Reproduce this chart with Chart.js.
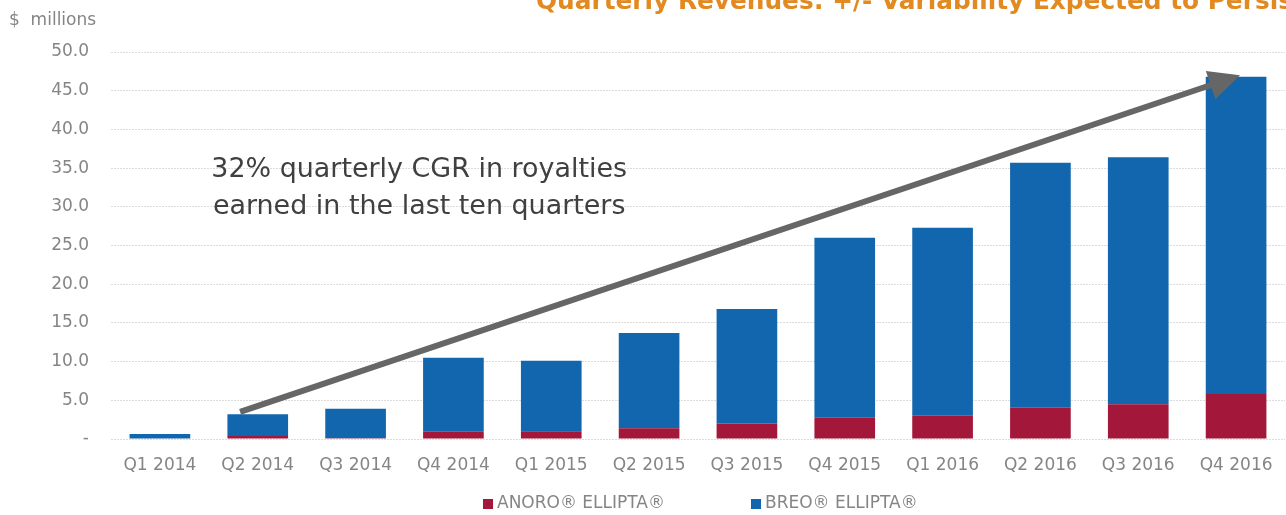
<!DOCTYPE html>
<html>
<head>
<meta charset="utf-8">
<script src="https://cdn.jsdelivr.net/npm/chart.js@4"></script>
<style>
html,body{margin:0;padding:0;background:#fff;}
#wrap{position:relative;width:1286px;height:515px;}
</style>
</head>
<body>
<div id="wrap"><canvas id="c" width="1286" height="515"></canvas></div>
<script>
const categories = ['Q1 2014','Q2 2014','Q3 2014','Q4 2014','Q1 2015','Q2 2015','Q3 2015','Q4 2015','Q1 2016','Q2 2016','Q3 2016','Q4 2016'];
const anoro = [0.0, 0.4, 0.1, 0.95, 1.0, 1.4, 2.0, 2.75, 3.0, 4.05, 4.5, 5.8];
const breo  = [0.65, 2.8, 3.8, 9.55, 9.1, 12.3, 14.8, 23.25, 24.3, 31.65, 31.9, 41.0];
const seriesNames = ['ANORO\u00AE ELLIPTA\u00AE', 'BREO\u00AE ELLIPTA\u00AE'];
const yTicks = [0,5,10,15,20,25,30,35,40,45,50];
const titleText = 'Quarterly Revenues: +/- Variability Expected to Persist';
const unitText = '$  millions';
const noteLines = ['32% quarterly CGR in royalties', 'earned in the last ten quarters'];
// arrow anchored in data space: [category index, value]
const arrowStart = [0.82, 3.5];
const arrowEnd = [11.04, 47.0];
const noteAnchor = [2.65, 34.7];

const FONT = "'DejaVu Sans', 'Open Sans', sans-serif";
const GREY = '#858585';

function fitFont(ctx, weight, text, width, base) {
  ctx.font = weight + ' ' + base + 'px ' + FONT;
  const w = ctx.measureText(text).width;
  return base * width / w;
}

const overlay = {
  id: 'overlay',
  afterDraw(chart) {
    const ctx = chart.ctx;
    const x = chart.scales.x, y = chart.scales.y;
    ctx.save();
    // title (clipped at top)
    const tSize = fitFont(ctx, 'bold', 'Quarterly Revenues: +/- Variability Expected to ', 672, 24);
    ctx.fillStyle = '#E2891F';
    ctx.font = 'bold ' + tSize + 'px ' + FONT;
    ctx.textAlign = 'left';
    ctx.textBaseline = 'alphabetic';
    ctx.fillText(titleText, 536, 9);
    // unit label
    ctx.fillStyle = GREY;
    ctx.font = "17px " + FONT;
    ctx.fillText(unitText, 9, 25);
    // arrow
    const x0 = x.getPixelForValue(arrowStart[0]), y0 = y.getPixelForValue(arrowStart[1]);
    const x1 = x.getPixelForValue(arrowEnd[0]), y1 = y.getPixelForValue(arrowEnd[1]);
    const ang = Math.atan2(y1 - y0, x1 - x0);
    const headLen = 31, headW = 15;
    const bx = x1 - headLen * Math.cos(ang), by = y1 - headLen * Math.sin(ang);
    ctx.strokeStyle = '#666666';
    ctx.fillStyle = '#666666';
    ctx.lineWidth = 6;
    ctx.beginPath();
    ctx.moveTo(x0, y0);
    ctx.lineTo(bx + 2 * Math.cos(ang), by + 2 * Math.sin(ang));
    ctx.stroke();
    ctx.beginPath();
    ctx.moveTo(x1, y1);
    ctx.lineTo(bx + headW * Math.sin(ang), by - headW * Math.cos(ang));
    ctx.lineTo(bx - headW * Math.sin(ang), by + headW * Math.cos(ang));
    ctx.closePath();
    ctx.fill();
    // annotation text
    const nx = x.getPixelForValue(noteAnchor[0]);
    const ny = y.getPixelForValue(noteAnchor[1]);
    const nSize = fitFont(ctx, 'normal', noteLines[0], 416, 25);
    ctx.fillStyle = '#404040';
    ctx.font = nSize + "px " + FONT;
    ctx.textAlign = 'center';
    ctx.textBaseline = 'middle';
    noteLines.forEach((t, i) => ctx.fillText(t, nx, ny + i * 37));
    // legend
    ctx.font = "17px " + FONT;
    ctx.textAlign = 'left';
    const legX = [483, 751];
    const legY = 504;
    chart.data.datasets.forEach((ds, i) => {
      ctx.fillStyle = ds.backgroundColor;
      ctx.fillRect(legX[i], legY - 5, 10, 10);
      ctx.fillStyle = GREY;
      ctx.fillText(ds.label, legX[i] + 14, legY);
    });
    ctx.restore();
  }
};

new Chart(document.getElementById('c'), {
  type: 'bar',
  data: {
    labels: categories,
    datasets: [
      { label: seriesNames[0], data: anoro, backgroundColor: '#A2173A', stack: 's' },
      { label: seriesNames[1], data: breo, backgroundColor: '#1166AD', stack: 's' }
    ]
  },
  options: {
    responsive: false,
    animation: false,
    layout: { padding: { left: 0, right: 1, top: 52, bottom: 36 } },
    plugins: { legend: { display: false }, tooltip: { enabled: false }, title: { display: false } },
    datasets: { bar: { categoryPercentage: 1.0, barPercentage: 0.62 } },
    scales: {
      x: {
        stacked: true,
        grid: { display: false },
        border: { display: false },
        ticks: { color: GREY, font: { family: FONT, size: 17 }, padding: 8, maxRotation: 0 },
        afterFit(s) { s.height = 40; }
      },
      y: {
        stacked: true,
        min: 0, max: 50,
        afterBuildTicks(s) { s.ticks = yTicks.map(v => ({ value: v })); },
        grid: { color: '#dcdcdc', lineWidth: 1, drawTicks: false },
        border: { display: false, dash: [2, 1] },
        ticks: {
          color: GREY, font: { family: FONT, size: 17 }, padding: 22,
          callback: v => v === 0 ? '-' : Number(v).toFixed(1)
        },
        afterFit(s) { s.width = 111; }
      }
    }
  },
  plugins: [overlay]
});
</script>
</body>
</html>
